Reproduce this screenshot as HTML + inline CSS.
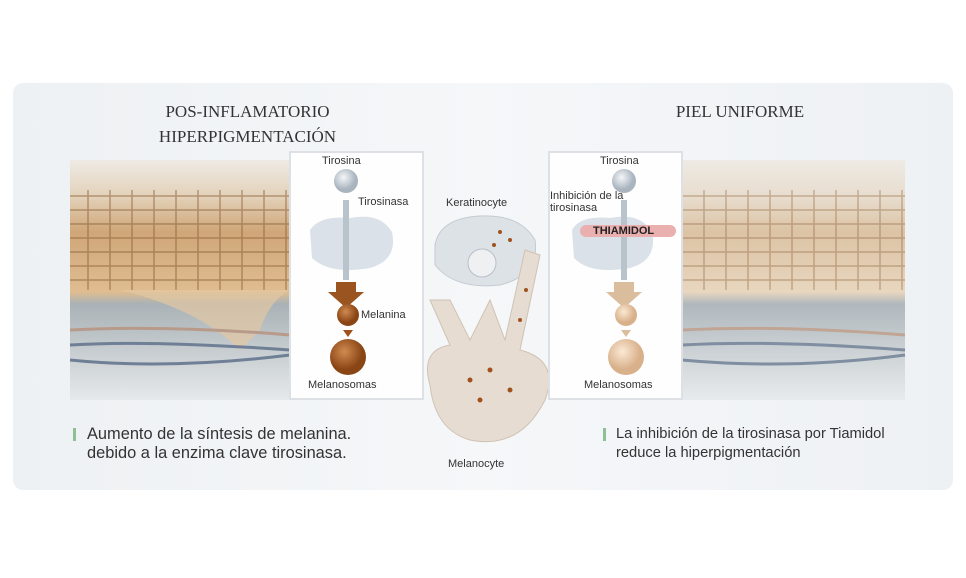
<!DOCTYPE html>
<html><head><meta charset="utf-8"><style>
body{margin:0;width:966px;height:578px;background:#fff;overflow:hidden;font-family:"Liberation Sans",sans-serif}
.panel{position:absolute;left:13px;top:83px;width:940px;height:407px;border-radius:10px;background:linear-gradient(90deg,#eef1f3,#f5f7f9 50%,#eef1f4)}
.t{position:absolute;font-family:"Liberation Serif",serif;font-size:17px;color:#333;letter-spacing:0;text-align:center;line-height:25px}
.s{position:absolute;font-size:11px;color:#333}
.b{position:absolute;color:#333;line-height:19px}
.bar{position:absolute;width:3px;height:13px;background:#8fbf95}
.box{position:absolute;top:151px;height:249px;background:rgba(255,255,255,.88);border:2px solid #dde1e5;box-sizing:border-box}
</style></head><body>
<div class="panel"></div>
<svg width="966" height="578" style="position:absolute;left:0;top:0">
<defs>
<linearGradient id="sk" x1="0" y1="0" x2="0" y2="1">
<stop offset="0" stop-color="#eeeae4"/><stop offset=".15" stop-color="#e3d2ba"/><stop offset=".3" stop-color="#cfa678"/><stop offset=".55" stop-color="#dfbd90"/><stop offset=".6" stop-color="#a9b2b6"/><stop offset="1" stop-color="#e6e9eb"/></linearGradient>
<linearGradient id="sk2" x1="0" y1="0" x2="0" y2="1">
<stop offset="0" stop-color="#eeeae4"/><stop offset=".15" stop-color="#e8ddcf"/><stop offset=".3" stop-color="#dcc3a4"/><stop offset=".55" stop-color="#e8d6bf"/><stop offset=".6" stop-color="#b0b8bd"/><stop offset="1" stop-color="#e8ebed"/></linearGradient>
<pattern id="cells" width="22" height="14" patternUnits="userSpaceOnUse"><rect width="22" height="14" fill="none" stroke="#8a5e35" stroke-width="1.5"/></pattern>
<radialGradient id="ball" cx=".4" cy=".35"><stop offset="0" stop-color="#f4f6f8"/><stop offset="1" stop-color="#a9b4bf"/></radialGradient>
<radialGradient id="mel" cx=".4" cy=".35"><stop offset="0" stop-color="#d08a50"/><stop offset="1" stop-color="#8a4515"/></radialGradient>
<radialGradient id="mel2" cx=".4" cy=".35"><stop offset="0" stop-color="#fbe9d4"/><stop offset="1" stop-color="#d8b08a"/></radialGradient>
</defs>
<rect x="70" y="160" width="220" height="240" fill="url(#sk)"/>
<rect x="70" y="190" width="220" height="100" fill="url(#cells)" opacity=".55"/>
<path d="M120 290 Q200 310 240 350 L260 330 Q270 300 290 290" fill="#e3c7a2" opacity=".7"/>
<path d="M70 345 Q150 340 290 350 M70 360 Q170 370 290 355" stroke="#6f7f95" stroke-width="3" fill="none"/>
<path d="M70 330 Q170 325 290 335" stroke="#b89a8a" stroke-width="3" fill="none"/>
<rect x="682" y="160" width="223" height="240" fill="url(#sk2)"/>
<rect x="682" y="190" width="223" height="100" fill="url(#cells)" opacity=".4"/>
<path d="M682 345 Q770 340 905 350 M682 360 Q790 370 905 355" stroke="#7f8ea0" stroke-width="3" fill="none"/>
<path d="M682 330 Q780 325 905 335" stroke="#c0a595" stroke-width="3" fill="none"/>
<path d="M435 245 Q440 218 480 216 Q520 214 535 240 Q540 275 500 285 Q455 290 435 265Z" fill="#dde2e7" stroke="#c4cbd2"/>
<circle cx="482" cy="263" r="14" fill="#eef0f2" stroke="#b8c0c8"/>
<path d="M430 385 Q420 350 450 345 L430 300 L450 300 L470 340 L490 300 L505 340 L525 250 L540 255 L520 350 Q560 360 545 400 Q520 450 470 440 Q435 430 430 385Z" fill="#e6dcd1" stroke="#cfc2b4"/>
<g fill="#a0521d"><circle cx="470" cy="380" r="2.5"/><circle cx="490" cy="370" r="2.5"/><circle cx="510" cy="390" r="2.5"/><circle cx="480" cy="400" r="2.5"/><circle cx="520" cy="320" r="2"/><circle cx="526" cy="290" r="2"/><circle cx="500" cy="232" r="2"/><circle cx="510" cy="240" r="2"/><circle cx="494" cy="245" r="2"/></g>
</svg>
<div class="box" style="left:289px;width:135px"></div>
<div class="box" style="left:548px;width:135px"></div>
<svg width="966" height="578" style="position:absolute;left:0;top:0">
<path d="M310 230 Q320 215 350 218 Q380 212 392 232 Q398 260 370 268 Q330 275 312 258Z" fill="#d6dee6" opacity=".9"/>
<circle cx="346" cy="181" r="12" fill="url(#ball)"/>
<rect x="343" y="200" width="6" height="80" fill="#b9c3cc"/>
<path d="M336 282h20v10h8l-18 16-18-16h8z" fill="#9a5420"/>
<circle cx="348" cy="315" r="11" fill="url(#mel)"/>
<path d="M343 330h10l-5 7z" fill="#a0521d"/>
<circle cx="348" cy="357" r="18" fill="url(#mel)"/>
<path d="M572 230 Q580 215 610 218 Q640 212 652 232 Q658 260 630 268 Q590 275 574 258Z" fill="#d6dee6" opacity=".9"/>
<circle cx="624" cy="181" r="12" fill="url(#ball)"/>
<rect x="621" y="200" width="6" height="80" fill="#b9c3cc"/>
<rect x="580" y="225" width="96" height="12" rx="6" fill="#eab0b0"/>
<path d="M614 282h20v10h8l-18 16-18-16h8z" fill="#d9bd9c"/>
<circle cx="626" cy="315" r="11" fill="url(#mel2)"/>
<path d="M621 330h10l-5 7z" fill="#d9bd9c"/>
<circle cx="626" cy="357" r="18" fill="url(#mel2)"/>
</svg>
<div class="t" style="left:130px;top:99px;width:235px">POS-INFLAMATORIO<br>HIPERPIGMENTACIÓN</div>
<div class="t" style="left:640px;top:99px;width:200px">PIEL UNIFORME</div>
<div class="s" style="left:322px;top:155px">Tirosina</div>
<div class="s" style="left:358px;top:196px">Tirosinasa</div>
<div class="s" style="left:361px;top:309px">Melanina</div>
<div class="s" style="left:308px;top:379px">Melanosomas</div>
<div class="s" style="left:446px;top:197px">Keratinocyte</div>
<div class="s" style="left:448px;top:458px">Melanocyte</div>
<div class="s" style="left:600px;top:155px">Tirosina</div>
<div class="s" style="left:550px;top:190px;line-height:12px">Inhibición de la<br>tirosinasa</div>
<div class="s" style="left:593px;top:225px;font-weight:bold;color:#222">THIAMIDOL</div>
<div class="s" style="left:584px;top:379px">Melanosomas</div>
<div class="bar" style="left:73px;top:428px"></div>
<div class="b" style="left:87px;top:425px;font-size:16.4px">Aumento de la síntesis de melanina.<br>debido a la enzima clave tirosinasa.</div>
<div class="bar" style="left:603px;top:428px"></div>
<div class="b" style="left:616px;top:425px;font-size:14.7px">La inhibición de la tirosinasa por Tiamidol<br>reduce la hiperpigmentación</div>
</body></html>
